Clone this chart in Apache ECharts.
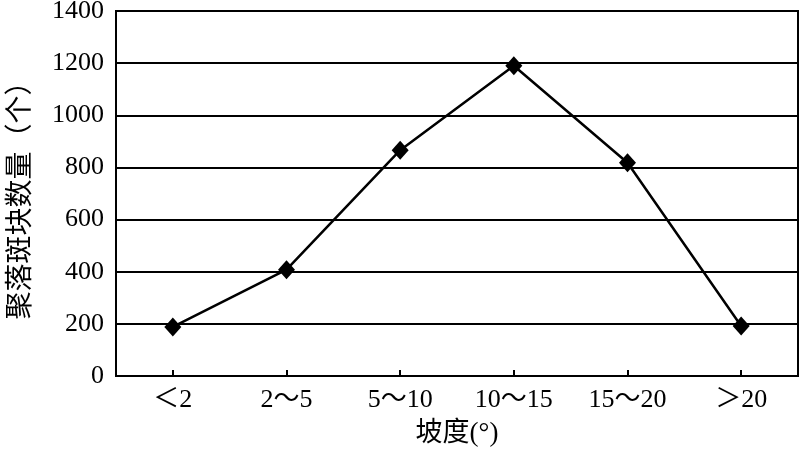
<!DOCTYPE html>
<html>
<head>
<meta charset="utf-8">
<script src="https://cdn.jsdelivr.net/npm/echarts@6/dist/echarts.min.js"></script>
<style>html,body{margin:0;padding:0;background:#fff;}#c{width:800px;height:450px;}</style>
</head>
<body>
<div id="c"></div>
<script>
const categories = ['＜2', '2～5', '5～10', '10～15', '15～20', '＞20'];
const counts = [188, 408, 866, 1190, 818, 192];
const yTicks = { min: 0, max: 1400, interval: 200 };
const xName = '坡度(°)';
const yName = '聚落斑块数量（个）';

const FONT = '"Liberation Serif", "Noto Sans CJK SC", serif';
const chart = echarts.init(document.getElementById('c'));
chart.setOption({
  animation: false,
  backgroundColor: '#fff',
  grid: { left: 116, right: 2, top: 11, bottom: 74, show: true, borderColor: '#000', borderWidth: 2, containLabel: false, outerBoundsMode: 'none' },
  xAxis: {
    type: 'category',
    data: categories,
    boundaryGap: true,
    name: xName,
    nameLocation: 'middle',
    nameGap: 44,
    nameTextStyle: { color: '#000', fontSize: 27, fontFamily: FONT },
    axisLine: { lineStyle: { color: '#000', width: 2 } },
    axisTick: { show: true, alignWithLabel: true, inside: true, length: 6, lineStyle: { color: '#000', width: 2 } },
    axisLabel: { color: '#000', fontSize: 26, fontFamily: FONT, margin: 11 },
    splitLine: { show: false }
  },
  yAxis: {
    type: 'value',
    min: yTicks.min, max: yTicks.max, interval: yTicks.interval,
    name: yName,
    nameLocation: 'middle',
    nameGap: 80,
    nameRotate: 90,
    nameTextStyle: { color: '#000', fontSize: 28, fontFamily: FONT },
    axisLine: { show: true, lineStyle: { color: '#000', width: 2 } },
    axisTick: { show: false },
    axisLabel: { color: '#000', fontSize: 26, fontFamily: FONT, margin: 12, formatter: function (v) { return String(v); } },
    splitLine: { show: true, lineStyle: { color: '#000', width: 2 } }
  },
  series: [{
    type: 'line',
    data: counts,
    symbol: 'diamond',
    symbolSize: [17, 19],
    itemStyle: { color: '#000' },
    lineStyle: { color: '#000', width: 2.5 }
  }]
});
</script>
</body>
</html>
